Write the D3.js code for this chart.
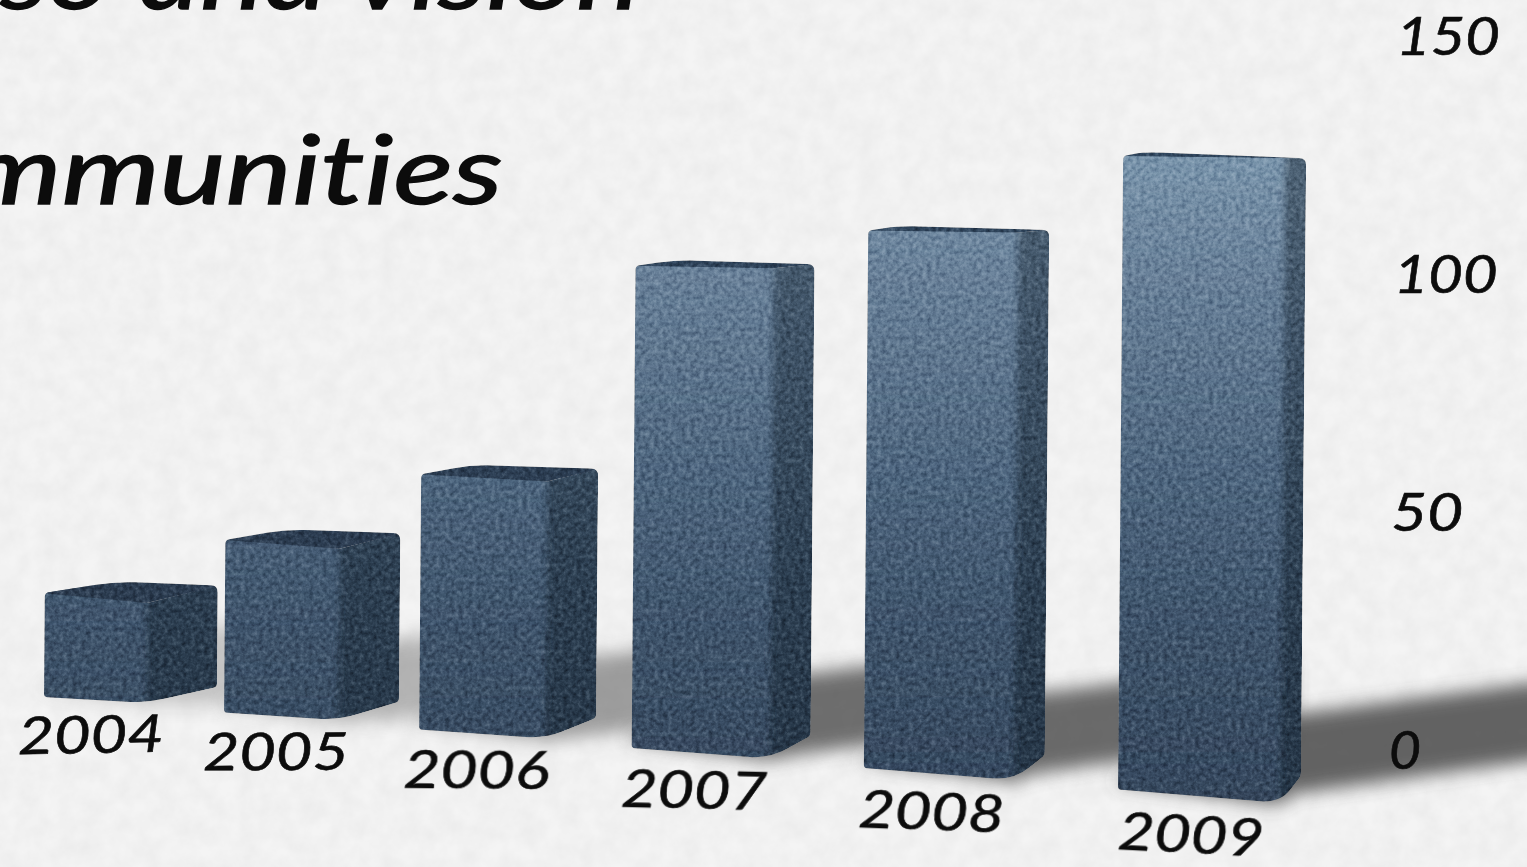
<!DOCTYPE html>
<html>
<head>
<meta charset="utf-8">
<style>
  html, body { margin: 0; padding: 0; background: #f4f4f4; overflow: hidden; }
  svg { display: block; }
  text { font-family: Lato, "Noto Sans", sans-serif; font-style: italic; fill: #0c0c0c; font-variant-ligatures: none; }
</style>
<script src="https://cdn.jsdelivr.net/npm/d3@7"></script>
</head>
<body>
<svg id="chart"></svg>
<script>
const years = ['2004', '2005', '2006', '2007', '2008', '2009'];
const revenue = [21, 36, 54, 103, 115, 135.5];
const yTicks = [0, 50, 100, 150];
const titleLines = ['so and vision', 'Communities'];

const width = 1527, height = 867;
const svg = d3.select('#chart').attr('width', width).attr('height', height);
const defs = svg.append('defs');

// the axis on the right runs over 714px, the bars use the same size
const yAxisScale = d3.scaleLinear().domain([0, 150]).range([752, 38]);
const barHeight = d3.scaleLinear().domain([0, 150]).range([0, 714]);
const shadowOpacity = d3.scaleLinear().domain([20, 54, 103, 136]).range([0.25, 0.5, 0.78, 0.85]).clamp(true);

// the floor is seen in perspective, bars get closer to the right
const floorX = i => 44 + 171.3 * i + 8.7 * i * i + 0.38 * i * (i - 1) * (i - 5);
const floorY = i => 703 + 16.25 * i + 0.75 * i * i;

function barShape(d, i) {
  const h = barHeight(d.value);
  const lean = 0.008 * h;
  const frontW = 102 + 12 * i;
  const sideW = 71 - 10 * i;
  const x0 = floorX(i);
  const yb = floorY(i);
  const yt = yb - h;
  const bl = [x0, yb - (6 + 1.5 * i)];
  const bf = [x0 + frontW, yb];
  const br = [x0 + frontW + sideW, yb - (16 + 2.2 * i)];
  const tf = [bf[0] + lean, yt];
  const tl = [bl[0] + lean, yt - Math.max(2, (yt - 165) * 0.023)];
  const tr = [br[0] + lean, yt - Math.max(-4, (yt - 165) * 0.04)];
  const tb = [tl[0] + tr[0] - tf[0], Math.min(tl[1], tr[1]) - 4];
  return { bl, bf, br, tf, tl, tr, tb };
}

const poly = pts => d3.line()(pts) + 'Z';

// closed outline with each corner rounded by its own radius
function roundPoly(pts) {
  const p = d3.path();
  pts.forEach((c, k) => {
    const a = pts[(k + pts.length - 1) % pts.length], b = pts[(k + 1) % pts.length];
    const r = c[2];
    const la = Math.hypot(a[0] - c[0], a[1] - c[1]), lb = Math.hypot(b[0] - c[0], b[1] - c[1]);
    const ra = Math.min(r, la / 2), rb = Math.min(r, lb / 2);
    const p1 = [c[0] + (a[0] - c[0]) * ra / la, c[1] + (a[1] - c[1]) * ra / la];
    const p2 = [c[0] + (b[0] - c[0]) * rb / lb, c[1] + (b[1] - c[1]) * rb / lb];
    if (k === 0) p.moveTo(p1[0], p1[1]); else p.lineTo(p1[0], p1[1]);
    p.quadraticCurveTo(c[0], c[1], p2[0], p2[1]);
  });
  p.closePath();
  return p.toString();
}

// gradients are in page space so that height alone decides the brightness
function vGrad(id, stops) {
  const g = defs.append('linearGradient').attr('id', id)
    .attr('gradientUnits', 'userSpaceOnUse')
    .attr('x1', 0).attr('x2', 0).attr('y1', 150).attr('y2', 800);
  stops.forEach(s => g.append('stop').attr('offset', s[0]).attr('stop-color', s[1]));
}
vGrad('frontGrad', [[0, '#7a9ab4'], [0.2, '#6784a0'], [0.5, '#4d6a87'], [0.75, '#3d5672'], [1, '#344a64']]);
vGrad('sideGrad', [[0, '#4f687e'], [0.3, '#3e566e'], [0.65, '#2c4259'], [1, '#24374c']]);
vGrad('topGrad', [[0, '#2f4a66'], [0.6, '#2b3f58'], [1, '#2b3d54']]);

// stone texture
const stone = defs.append('filter').attr('id', 'stone')
  .attr('filterUnits', 'userSpaceOnUse')
  .attr('x', 0).attr('y', 0).attr('width', width).attr('height', height)
  .attr('color-interpolation-filters', 'sRGB');
stone.append('feTurbulence').attr('type', 'fractalNoise').attr('baseFrequency', 0.22)
  .attr('numOctaves', 4).attr('seed', 4).attr('result', 'n');
stone.append('feColorMatrix').attr('in', 'n').attr('type', 'matrix')
  .attr('values', '0.7 0 0 0 0.12  0.7 0 0 0 0.12  0.7 0 0 0 0.12  0 0 0 0 1').attr('result', 'grain');
stone.append('feBlend').attr('in', 'grain').attr('in2', 'SourceGraphic').attr('mode', 'soft-light').attr('result', 'b');
stone.append('feColorMatrix').attr('in', 'b').attr('type', 'saturate').attr('values', 0.85).attr('result', 'c');
stone.append('feComposite').attr('in', 'c').attr('in2', 'SourceAlpha').attr('operator', 'in');

// paper texture
const paper = defs.append('filter').attr('id', 'paper')
  .attr('filterUnits', 'userSpaceOnUse')
  .attr('x', 0).attr('y', 0).attr('width', width).attr('height', height)
  .attr('color-interpolation-filters', 'sRGB');
paper.append('feTurbulence').attr('type', 'fractalNoise').attr('baseFrequency', 0.05)
  .attr('numOctaves', 4).attr('seed', 9);
paper.append('feColorMatrix').attr('type', 'matrix')
  .attr('values', '0 0 0 0 0  0 0 0 0 0  0 0 0 0 0  0.05 0 0 0 -0.012');

function blurFilter(id, dev) {
  defs.append('filter').attr('id', id)
    .attr('filterUnits', 'userSpaceOnUse')
    .attr('x', -100).attr('y', 0).attr('width', width + 300).attr('height', height)
    .append('feGaussianBlur').attr('stdDeviation', dev);
}
blurFilter('blurShadow', 9);
blurFilter('blurEdge', 3);

svg.append('rect').attr('width', width).attr('height', height).attr('fill', '#f4f4f4');
svg.append('rect').attr('width', width).attr('height', height).attr('filter', 'url(#paper)');

const data = years.map((year, i) => ({ year, value: revenue[i], i }));

// cut off at the edges of the slide, like the original
svg.append('g').selectAll('text').data(titleLines).join('text')
  .attr('x', (d, i) => i === 0 ? 640 : 503)
  .attr('y', (d, i) => i === 0 ? 9 : 204)
  .attr('text-anchor', 'end')
  .attr('font-size', 96)
  .attr('stroke', '#0c0c0c')
  .attr('stroke-width', 1.4)
  .attr('textLength', (d, i) => i === 0 ? 640 : 680)
  .attr('lengthAdjust', 'spacingAndGlyphs')
  .text(d => d);

// cast shadows, only the long one leaves the row of bars
const shadows = svg.append('g');
shadows.selectAll('path').data(data).join('path')
  .attr('fill', '#4a4a4a')
  .attr('filter', 'url(#blurShadow)')
  .attr('opacity', d => shadowOpacity(d.value))
  .attr('d', d => {
    const s = barShape(d, d.i);
    const len = barHeight(d.value) * 0.45;
    const rise = len * 0.14;
    return poly([
      [s.bl[0] - 6, s.bl[1] - 8],
      [s.br[0] - 20, s.br[1] - 60],
      [s.br[0] + len, s.br[1] - 60 - rise],
      [s.br[0] + len, s.br[1] + 17 - rise],
      [s.br[0] - 10, s.br[1] + 18],
      [s.bf[0], s.bf[1] + 2]
    ]);
  });

// bars
data.forEach(d => { d.shape = barShape(d, d.i); });

defs.selectAll('clipPath').data(data).join('clipPath')
  .attr('id', d => `bar${d.i}`)
  .append('path')
  .attr('d', d => {
    const s = d.shape;
    return roundPoly([
      [...s.tl, 4], [...s.tb, 20], [...s.tr, 7],
      [...s.br, 4], [...s.bf, 20], [...s.bl, 3]
    ]);
  });

const bars = svg.append('g').attr('filter', 'url(#stone)')
  .selectAll('g').data(data).join('g')
  .attr('clip-path', d => `url(#bar${d.i})`);

// the side is painted wider than it is, the soft front edge lies over it
bars.append('path')
  .attr('fill', 'url(#sideGrad)')
  .attr('d', d => {
    const s = d.shape;
    return poly([[s.tf[0] - 14, s.tf[1]], s.tf, s.tr, s.br, s.bf, [s.bf[0] - 14, s.bf[1] + 10]]);
  });

// runs past the top edge too, the top face is painted over that part
bars.append('path')
  .attr('fill', 'url(#frontGrad)')
  .attr('filter', 'url(#blurEdge)')
  .attr('d', d => {
    const s = d.shape;
    return poly([[s.tl[0] - 12, s.tl[1] - 12], [s.tf[0], s.tf[1] - 12], [s.bf[0], s.bf[1] + 12], [s.bl[0] - 12, s.bl[1] + 12]]);
  });

bars.append('path')
  .attr('fill', 'url(#topGrad)')
  .attr('d', d => {
    const s = d.shape;
    return poly([[s.tl[0] - 3, s.tl[1]], [s.tb[0], s.tb[1] - 3], [s.tr[0] + 3, s.tr[1]], s.tf]);
  });

// year labels follow the floor
svg.append('g').selectAll('text').data(data).join('text')
  .attr('text-anchor', 'middle')
  .attr('font-size', 52)
  .attr('stroke', '#0c0c0c')
  .attr('stroke-width', 0.6)
  .attr('transform', d => {
    const x = floorX(d.i) + 47 + 5 * d.i;
    const y = floorY(d.i) + 50;
    return `translate(${x},${y}) rotate(${-1 + 0.8 * d.i})`;
  })
  .attr('textLength', 146)
  .attr('lengthAdjust', 'spacingAndGlyphs')
  .text(d => d.year);

// value axis, only the labels are drawn
const yAxis = svg.append('g')
  .attr('transform', 'translate(1389,0)')
  .call(d3.axisRight(yAxisScale).tickValues(yTicks).tickSize(0).tickPadding(0));
yAxis.select('.domain').remove();
yAxis.selectAll('text')
  .attr('font-size', 52)
  .attr('stroke', '#0c0c0c')
  .attr('stroke-width', 0.6)
  .attr('dy', '0.32em')
  .attr('x', d => d / 150 * 7)
  .attr('textLength', d => d === 0 ? 32 : d === 50 ? 72 : 104)
  .attr('lengthAdjust', 'spacingAndGlyphs');
</script>
</body>
</html>
